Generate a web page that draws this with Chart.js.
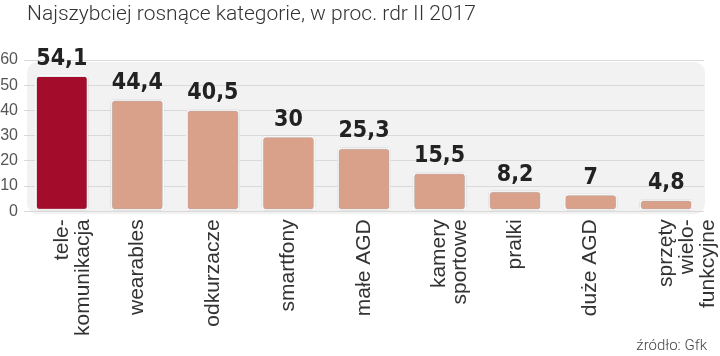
<!DOCTYPE html>
<html>
<head>
<meta charset="utf-8">
<script src="https://cdn.jsdelivr.net/npm/chart.js@4.4.1/dist/chart.umd.min.js"></script>
<style>
  html, body { margin: 0; padding: 0; background: #fff; }
  #wrap { position: relative; width: 720px; height: 356px; overflow: hidden; }
  #title { position: absolute; left: 27px; top: 1px; font-family: Roboto, "Liberation Sans", sans-serif; font-weight: 300; font-size: 21px; color: #333; white-space: nowrap; }
  #source { position: absolute; right: 13px; top: 336px; font-family: Roboto, "Liberation Sans", sans-serif; font-weight: 300; font-size: 15px; color: #444; white-space: nowrap; }
  canvas { position: absolute; left: 0; top: 0; }
</style>
</head>
<body>
<div id="wrap">
  <canvas id="c" width="720" height="356"></canvas>
  <div id="title">Najszybciej rosnące kategorie, w proc. rdr II 2017</div>
  <div id="source">źródło: Gfk</div>
</div>
<script>
const categories = [
  ['tele-', 'komunikacja'],
  'wearables',
  'odkurzacze',
  'smartfony',
  'małe AGD',
  ['kamery', 'sportowe'],
  'pralki',
  'duże AGD',
  ['sprzęty', 'wielo-', 'funkcyjne']
];
const values = [54.1, 44.4, 40.5, 30, 25.3, 15.5, 8.2, 7, 4.8];
const valueLabels = ['54,1', '44,4', '40,5', '30', '25,3', '15,5', '8,2', '7', '4,8'];
const yTicks = [0, 10, 20, 30, 40, 50, 60];

const barColors = values.map((v, i) => i === 0 ? '#A30C2B' : '#D9A08A');

const panelPlugin = {
  id: 'panel',
  beforeDraw(chart) {
    const { ctx, chartArea: a } = chart;
    ctx.save();
    ctx.fillStyle = '#f2f2f2';
    ctx.beginPath();
    ctx.roundRect(a.left + 3, a.top + 2, a.right - a.left - 2, a.bottom - a.top + 1, 11);
    ctx.fill();
    ctx.restore();
  }
};

const shadowPlugin = {
  id: 'barShadow',
  beforeDatasetsDraw(chart) {
    const ctx = chart.ctx;
    ctx.save();
    ctx.shadowColor = 'rgba(0,0,0,0.35)';
    ctx.shadowBlur = 2;
  },
  afterDatasetsDraw(chart) {
    chart.ctx.restore();
  }
};

const valueLabelPlugin = {
  id: 'valueLabels',
  afterDatasetsDraw(chart) {
    const { ctx } = chart;
    const meta = chart.getDatasetMeta(0);
    ctx.save();
    ctx.font = 'bold 23px "DejaVu Sans Condensed", "DejaVu Sans", sans-serif';
    ctx.fillStyle = '#222';
    ctx.textAlign = 'center';
    ctx.textBaseline = 'alphabetic';
    meta.data.forEach((bar, i) => {
      ctx.fillText(valueLabels[i], bar.x, bar.y - 10);
    });
    ctx.restore();
  }
};

new Chart(document.getElementById('c'), {
  type: 'bar',
  data: {
    labels: categories,
    datasets: [{
      data: values,
      backgroundColor: barColors,
      borderColor: '#ffffff',
      borderWidth: 2,
      borderRadius: 4,
      borderSkipped: false,
      categoryPercentage: 1,
      barPercentage: 0.71
    }]
  },
  options: {
    responsive: false,
    animation: false,
    devicePixelRatio: 1,
    layout: { autoPadding: false, padding: { left: 0, right: 16, top: 60, bottom: 12 } },
    plugins: {
      legend: { display: false },
      tooltip: { enabled: false },
      title: { display: false }
    },
    scales: {
      x: {
        grid: { display: false, drawTicks: false },
        border: { display: false },
        afterFit(scale) { scale.paddingLeft = 0; scale.paddingRight = 0; },
        ticks: {
          minRotation: 90,
          maxRotation: 90,
          padding: 8,
          color: '#333',
          font: { family: '"Liberation Sans", Arial, sans-serif', size: 21, lineHeight: 1.0 }
        }
      },
      y: {
        min: 0,
        max: 60,
        afterBuildTicks(scale) { scale.ticks = yTicks.map(v => ({ value: v })); },
        afterFit(scale) { scale.width = 24; scale.paddingTop = 0; scale.paddingBottom = 0; },
        grid: { color: '#d9d9d9', lineWidth: 1, drawTicks: false },
        border: { display: false },
        ticks: {
          padding: 6,
          color: '#555',
          font: { family: '"Liberation Sans", Arial, sans-serif', size: 16 }
        }
      }
    }
  },
  plugins: [panelPlugin, shadowPlugin, valueLabelPlugin]
});
</script>
</body>
</html>
